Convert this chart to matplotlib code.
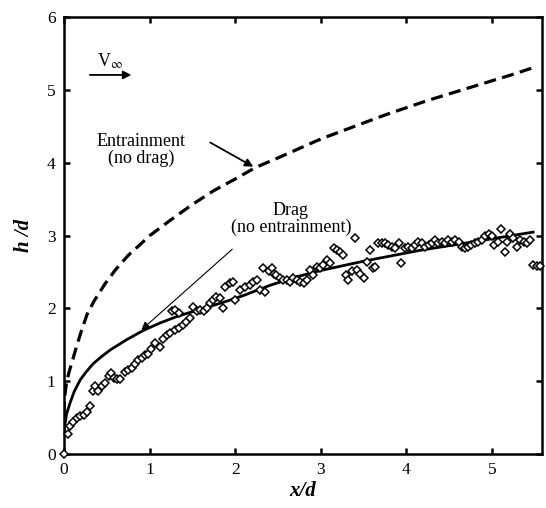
import matplotlib
matplotlib.use("Agg")
import matplotlib.pyplot as plt

plt.rcParams["font.family"] = ["Liberation Serif", "DejaVu Serif"]
plt.rcParams["mathtext.fontset"] = "stix"

# measured points (diamonds)
data_x = [0.0, 0.05, 0.07, 0.11, 0.15, 0.19, 0.23, 0.27, 0.30, 0.34, 0.36, 0.40,
          0.44, 0.48, 0.52, 0.55, 0.58, 0.62, 0.65, 0.71, 0.75, 0.79, 0.83, 0.87,
          0.91, 0.95, 0.98, 1.02, 1.06, 1.12, 1.16, 1.20, 1.24, 1.26, 1.30, 1.34,
          1.30, 1.34, 1.39, 1.43, 1.47, 1.51, 1.55, 1.59, 1.63, 1.67, 1.71, 1.74,
          1.78, 1.86, 1.82, 1.88, 1.94, 1.98, 2.00, 2.06, 2.11, 2.17, 2.21, 2.25,
          2.29, 2.35, 2.33, 2.39, 2.43, 2.45, 2.48, 2.52, 2.56, 2.60, 2.64, 2.68,
          2.72, 2.76, 2.80, 2.84, 2.87, 2.91, 2.95, 2.99, 3.03, 3.07, 3.11, 3.15,
          3.19, 3.22, 3.26, 3.30, 3.32, 3.36, 3.40, 3.42, 3.46, 3.50, 3.54, 3.57,
          3.61, 3.63, 3.67, 3.71, 3.75, 3.79, 3.83, 3.87, 3.91, 3.94, 3.98, 4.02,
          4.06, 4.10, 4.14, 4.18, 4.22, 4.26, 4.30, 4.33, 4.37, 4.41, 4.45, 4.49,
          4.53, 4.57, 4.61, 4.65, 4.68, 4.72, 4.76, 4.80, 4.84, 4.88, 4.92, 4.96,
          5.00, 5.02, 5.07, 5.11, 5.15, 5.17, 5.21, 5.25, 5.29, 5.33, 5.37, 5.41,
          5.44, 5.48, 5.52, 5.56]
data_y = [0.0, 0.28, 0.38, 0.44, 0.49, 0.52, 0.54, 0.58, 0.66, 0.86, 0.93, 0.86,
          0.93, 0.97, 1.07, 1.11, 1.04, 1.03, 1.03, 1.13, 1.15, 1.18, 1.24, 1.29,
          1.32, 1.36, 1.38, 1.45, 1.52, 1.47, 1.58, 1.64, 1.66, 1.96, 1.98, 1.94,
          1.70, 1.73, 1.77, 1.82, 1.87, 2.02, 1.96, 1.98, 1.96, 2.00, 2.07, 2.12,
          2.16, 2.00, 2.14, 2.30, 2.35, 2.37, 2.12, 2.25, 2.30, 2.32, 2.37, 2.39,
          2.25, 2.23, 2.55, 2.51, 2.55, 2.48, 2.46, 2.42, 2.39, 2.39, 2.37, 2.42,
          2.39, 2.37, 2.35, 2.39, 2.53, 2.46, 2.57, 2.55, 2.60, 2.67, 2.62, 2.83,
          2.80, 2.78, 2.74, 2.46, 2.39, 2.51, 2.97, 2.53, 2.48, 2.42, 2.64, 2.80,
          2.55, 2.57, 2.90, 2.90, 2.90, 2.87, 2.85, 2.83, 2.90, 2.62, 2.83, 2.85,
          2.83, 2.87, 2.92, 2.90, 2.85, 2.87, 2.90, 2.94, 2.90, 2.92, 2.90, 2.94,
          2.92, 2.94, 2.92, 2.85, 2.83, 2.85, 2.87, 2.90, 2.92, 2.94, 2.99, 3.03,
          2.99, 2.87, 2.92, 3.09, 2.78, 2.92, 3.03, 2.97, 2.85, 2.94, 2.92, 2.90,
          2.94, 2.60, 2.58, 2.58]

# entrainment model (no drag), dashed
entr_x = [0.0, 0.002, 0.01, 0.03, 0.06, 0.1, 0.15, 0.2, 0.27, 0.35, 0.48, 0.6,
          0.75, 0.9, 1.0, 1.25, 1.5, 1.75, 2.0, 2.24, 2.5, 2.75, 3.0, 3.25, 3.5,
          3.75, 4.0, 4.25, 4.5, 4.75, 5.0, 5.25, 5.48]
entr_y = [0.55, 0.65, 0.8, 0.99, 1.13, 1.29, 1.49, 1.68, 1.92, 2.10, 2.34, 2.53,
          2.73, 2.89, 3.0, 3.22, 3.43, 3.62, 3.78, 3.94, 4.07, 4.2, 4.33, 4.44, 4.55,
          4.66, 4.76, 4.86, 4.95, 5.04, 5.13, 5.22, 5.31]

# drag model (no entrainment), solid
drag_x = [0.0, 0.01, 0.03, 0.07, 0.12, 0.19, 0.26, 0.34, 0.44, 0.54, 0.73, 0.93,
          1.12, 1.32, 1.51, 1.71, 1.90, 2.1, 2.41, 2.7, 2.99, 3.5, 4.16, 4.8, 5.48]
drag_y = [0.25, 0.4, 0.55, 0.70, 0.86, 1.02, 1.13, 1.24, 1.34, 1.43, 1.57, 1.70,
          1.80, 1.89, 1.96, 2.03, 2.10, 2.18, 2.32, 2.43, 2.52, 2.65, 2.80, 2.92, 3.05]

fig = plt.figure(figsize=(5.46, 5.08), dpi=100)
ax = fig.add_axes([0.1172, 0.1063, 0.8755, 0.8593])

ax.plot(entr_x, entr_y, color="black", lw=2.3, dashes=(3.8, 2.0))
ax.plot(drag_x, drag_y, color="black", lw=2.0)
ax.plot(data_x, data_y, ls="none", marker="D", ms=4.5, mfc="white",
        mec="black", mew=1.1, clip_on=False, zorder=3)

ax.set_xlim(0, 5.584)
ax.set_ylim(0, 6)
ax.set_xticks([0, 1, 2, 3, 4, 5])
ax.set_yticks([0, 1, 2, 3, 4, 5, 6])
ax.tick_params(direction="in", length=4, width=1.8, top=True, right=True,
               labelsize=12.5, pad=6)
for s in ax.spines.values():
    s.set_linewidth(1.8)

ax.set_xlabel("x/d", fontsize=15, fontweight="bold", style="italic", labelpad=2)
ax.set_ylabel("h /d", fontsize=15, fontweight="bold", style="italic", labelpad=9)

# annotations
ax.text(0.54, 5.40, r"V$_{\infty}$", fontsize=13, ha="center", va="center")
ax.annotate("", xy=(0.82, 5.21), xytext=(0.27, 5.21),
            arrowprops=dict(arrowstyle="-|>", color="black", lw=1.3,
                            mutation_scale=12))
ax.text(0.90, 4.18, "Entrainment\n(no drag)", fontsize=13, ha="center",
        va="center", linespacing=1.0)
ax.annotate("", xy=(2.24, 3.93), xytext=(1.68, 4.30),
            arrowprops=dict(arrowstyle="-|>", color="black", lw=1.3,
                            mutation_scale=12))
ax.text(2.65, 3.23, "Drag\n(no entrainment)", fontsize=13, ha="center",
        va="center", linespacing=1.0)
ax.annotate("", xy=(0.88, 1.68), xytext=(1.99, 2.84),
            arrowprops=dict(arrowstyle="-|>", color="black", lw=0.8,
                            mutation_scale=12))

fig.savefig("out.png", dpi=100)
